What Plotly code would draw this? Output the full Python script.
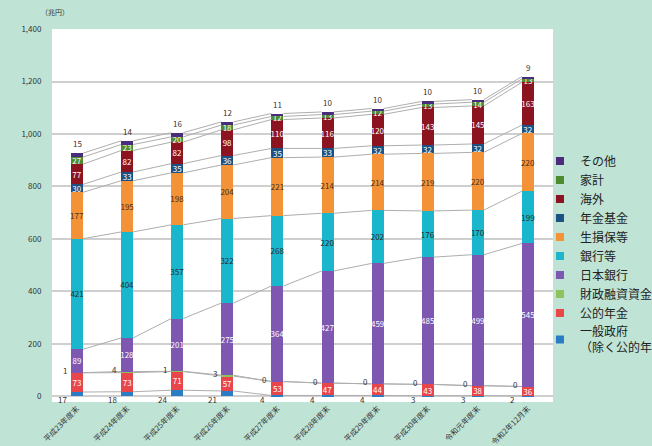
import plotly.graph_objects as go

categories = ["平成23年度末", "平成24年度末", "平成25年度末", "平成26年度末", "平成27年度末",
              "平成28年度末", "平成29年度末", "平成30年度末", "令和元年度末", "令和2年12月末"]

ippan = [17, 18, 24, 21, 4, 4, 4, 3, 3, 2]            # 一般政府（除く公的年金）
koteki = [73, 73, 71, 57, 53, 47, 44, 43, 38, 36]     # 公的年金
zaitou = [1, 4, 1, 3, 0, 0, 0, 0, 0, 0]               # 財政融資資金
boj = [89, 128, 201, 275, 364, 427, 459, 485, 499, 545]  # 日本銀行
banks = [421, 404, 357, 322, 268, 220, 202, 176, 170, 199]  # 銀行等
insurers = [177, 195, 198, 204, 221, 214, 214, 219, 220, 220]  # 生損保等
pension = [30, 33, 35, 36, 35, 33, 32, 32, 32, 32]    # 年金基金
overseas = [77, 82, 82, 98, 110, 116, 120, 143, 145, 163]  # 海外
household = [27, 23, 20, 18, 12, 13, 12, 13, 14, 13]  # 家計
others = [15, 14, 16, 12, 11, 10, 10, 10, 10, 9]      # その他

yticks = [0, 200, 400, 600, 800, 1000, 1200, 1400]

# (name, values, color, label color or None)
series = [
    ("一般政府<br>（除く公的年金）", ippan, "#2a7dc4", None),
    ("公的年金", koteki, "#e8464a", "white"),
    ("財政融資資金", zaitou, "#8dc35a", None),
    ("日本銀行", boj, "#7e57b0", "white"),
    ("銀行等", banks, "#1ab6cc", "#2a2a2a"),
    ("生損保等", insurers, "#f39237", "#4a3018"),
    ("年金基金", pension, "#1d5083", "white"),
    ("海外", overseas, "#8c1420", "white"),
    ("家計", household, "#4e8a2e", "white"),
    ("その他", others, "#4a2c7c", None),
]

FONT = "Noto Sans CJK JP"
W = 0.24
xs = list(range(len(categories)))

fig = go.Figure()

cum = [0] * len(categories)
bounds = []
for name, vals, color, lc in series:
    fig.add_trace(go.Bar(
        x=xs, y=vals, width=W, marker=dict(color=color, line=dict(width=0)),
        text=[str(v) for v in vals] if lc else None,
        textposition="inside" if lc else "none",
        insidetextanchor="middle", textangle=0,
        textfont=dict(size=8, color=lc or "white", family=FONT),
        showlegend=False, hoverinfo="skip", name=name,
    ))
    cum = [c + v for c, v in zip(cum, vals)]
    bounds.append(list(cum))

# connector lines between bars at each boundary
lx, ly = [], []
for b in bounds:
    for i in range(len(categories) - 1):
        lx += [xs[i] + W / 2, xs[i + 1] - W / 2, None]
        ly += [b[i], b[i + 1], None]
fig.add_trace(go.Scatter(x=lx, y=ly, mode="lines", line=dict(color="#aeaeae", width=1),
                         showlegend=False, hoverinfo="skip"))

# legend entries (top to bottom)
for name, vals, color, lc in reversed(series):
    fig.add_trace(go.Scatter(x=[None], y=[None], mode="markers", name=name,
                             marker=dict(symbol="square", size=8, color=color)))

ann = []
c3 = bounds[2]
tot = bounds[-1]
for i in xs:
    ann.append(dict(x=i - 0.3, y=-13, text=str(ippan[i]), showarrow=False,
                    font=dict(size=8, color="#333333", family=FONT), xanchor="center", yanchor="middle"))
    ann.append(dict(x=i - 0.25, y=c3[i], text=str(zaitou[i]), showarrow=False,
                    font=dict(size=8, color="#333333", family=FONT), xanchor="center", yanchor="middle", yshift=2))
    ann.append(dict(x=i, y=tot[i], text=str(others[i]), showarrow=False,
                    font=dict(size=8, color="#333333", family=FONT), xanchor="center", yanchor="bottom", yshift=2))
ann.append(dict(x=-0.026, y=1.045, xref="paper", yref="paper", text="（兆円）", showarrow=False,
                font=dict(size=7, color="#333333", family=FONT), xanchor="left", yanchor="middle"))

fig.update_layout(
    width=652, height=446, template="none",
    barmode="stack",
    paper_bgcolor="#bfe4d6", plot_bgcolor="white",
    margin=dict(l=52, r=99, t=29, b=44, autoexpand=False),
    font=dict(family=FONT, size=8, color="#333333"),
    separators=".,",
    xaxis=dict(range=[-0.5, 9.5], tickvals=xs, ticktext=categories, tickangle=-45,
               showgrid=False, zeroline=False, showline=False, automargin=False,
               tickfont=dict(size=7.6, color="#333333"), ticks=""),
    yaxis=dict(range=[-21, 1400], tickvals=yticks, tickformat=",d", showgrid=True,
               gridcolor="#cfcfcf", gridwidth=1.5, zeroline=False, showline=False,
               automargin=False, ticks="outside", ticklen=8, tickcolor="rgba(0,0,0,0)",
               tickfont=dict(size=8, color="#333333")),
    legend=dict(x=0.974, xanchor="left", y=0.685, yanchor="top", traceorder="normal",
                bgcolor="rgba(0,0,0,0)", font=dict(size=12, color="#222222", family=FONT),
                itemclick=False),
    uniformtext=dict(minsize=8, mode="show"),
    annotations=ann,
)

fig.write_html("out.html")
